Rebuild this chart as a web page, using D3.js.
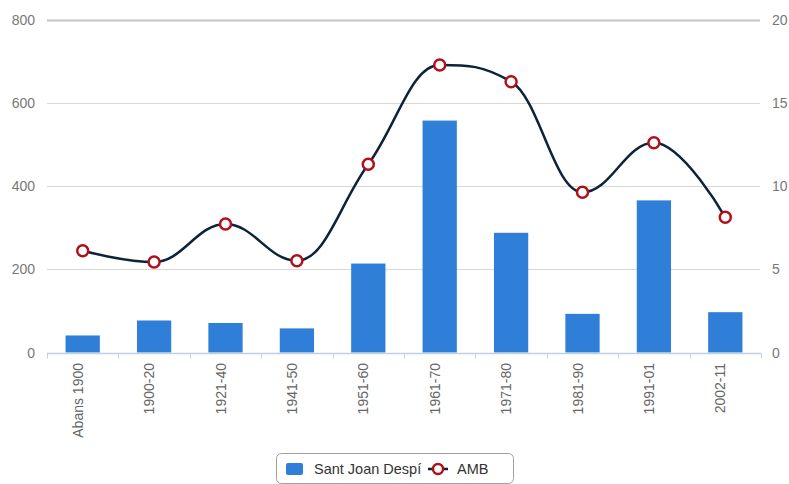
<!DOCTYPE html>
<html>
<head>
<meta charset="utf-8">
<script src="https://cdn.jsdelivr.net/npm/d3@7"></script>
<style>
  html, body { margin: 0; padding: 0; background: #fff; }
  svg { display: block; font-family: "Liberation Sans", Arial, sans-serif; }
</style>
</head>
<body>
<div id="chart"></div>
<script>
// Periods, new dwellings in Sant Joan Despí (left axis) and AMB share (right axis)
const periods = ["Abans 1900", "1900-20", "1921-40", "1941-50", "1951-60",
                 "1961-70", "1971-80", "1981-90", "1991-01", "2002-11"];
const santJoan = [41, 77, 71, 58, 214, 558, 288, 93, 366, 97];
const amb = [6.12, 5.44, 7.73, 5.52, 11.32, 17.29, 16.29, 9.64, 12.62, 8.13];
const leftTicks = [0, 200, 400, 600, 800];
const rightTicks = [0, 5, 10, 15, 20];

(function() {
  'use strict';

  const width = 789, height = 484;
  const plot = { left: 47, right: 761, top: 20, bottom: 352.5 };

  const svg = d3.select("#chart").append("svg")
    .attr("width", width)
    .attr("height", height);

  // Scales
  const x = d3.scaleBand()
    .domain(periods)
    .range([plot.left, plot.right]);

  const yLeft = d3.scaleLinear()
    .domain([0, 800])
    .range([plot.bottom, plot.top]);

  const yRight = d3.scaleLinear()
    .domain([0, 20])
    .range([plot.bottom, plot.top]);

  // Gridlines
  svg.append("g")
    .selectAll("line")
    .data(leftTicks.filter(d => d > 0))
    .join("line")
    .attr("x1", plot.left)
    .attr("x2", plot.right - 1)
    .attr("y1", d => Math.round(yLeft(d)) + 0.5)
    .attr("y2", d => Math.round(yLeft(d)) + 0.5)
    .attr("stroke", d => d === 800 ? "#c4c4c4" : "#d8d8d8")
    .attr("stroke-width", d => d === 800 ? 2 : 1);

  // Left axis labels
  svg.append("g")
    .selectAll("text")
    .data(leftTicks)
    .join("text")
    .attr("x", 35)
    .attr("y", d => yLeft(d) + 5)
    .attr("text-anchor", "end")
    .attr("fill", "#777")
    .style("font-size", "14px")
    .text(d => d);

  // Right axis labels
  svg.append("g")
    .selectAll("text")
    .data(rightTicks)
    .join("text")
    .attr("x", 772)
    .attr("y", d => yRight(d) + 5)
    .attr("text-anchor", "start")
    .attr("fill", "#777")
    .style("font-size", "14px")
    .text(d => d);

  // Bars
  const barW = x.bandwidth() * 0.48;
  svg.append("g")
    .selectAll("rect")
    .data(santJoan)
    .join("rect")
    .attr("x", (d, i) => x(periods[i]) + (x.bandwidth() - barW) / 2)
    .attr("y", d => yLeft(d))
    .attr("width", barW)
    .attr("height", d => yLeft(0) - yLeft(d))
    .attr("fill", "#2f7ed8");

  // X axis line and ticks
  const xAxisG = svg.append("g")
    .attr("transform", `translate(0,${Math.round(plot.bottom) + 0.5})`);
  xAxisG.append("line")
    .attr("x1", plot.left)
    .attr("x2", plot.right)
    .attr("stroke", "#c0d0e0")
    .attr("stroke-width", 1.5);
  xAxisG.selectAll(".tick")
    .data(periods.concat(["end"]))
    .join("line")
    .attr("class", "tick")
    .attr("x1", (d, i) => Math.round(plot.left + i * x.bandwidth()) + 0.5)
    .attr("x2", (d, i) => Math.round(plot.left + i * x.bandwidth()) + 0.5)
    .attr("y1", 0)
    .attr("y2", 5)
    .attr("stroke", "#c0d0e0")
    .attr("stroke-width", 1);

  // Rotated category labels
  svg.append("g")
    .selectAll("text")
    .data(periods)
    .join("text")
    .attr("transform", d => `translate(${x(d) + x.bandwidth() / 2},363) rotate(-90)`)
    .attr("text-anchor", "end")
    .attr("fill", "#666")
    .style("font-size", "14px")
    .text(d => d);

  // AMB line: spline with clamped control points (no false extremes)
  const pts = amb.map((d, i) => [x(periods[i]) + x.bandwidth() / 2, yRight(d)]);

  function splinePath(p) {
    const s = 1.5, den = s + 1;
    const conts = p.map((pt, i) => {
      if (i === 0 || i === p.length - 1) return null;
      const [px, py] = pt, [lx, ly] = p[i - 1], [nx, ny] = p[i + 1];
      const lcx = (s * px + lx) / den, rcx = (s * px + nx) / den;
      let lcy = (s * py + ly) / den, rcy = (s * py + ny) / den;
      const corr = ((rcy - lcy) * (rcx - px)) / (rcx - lcx) + py - rcy;
      lcy += corr; rcy += corr;
      if (lcy > ly && lcy > py) { lcy = Math.max(ly, py); rcy = 2 * py - lcy; }
      else if (lcy < ly && lcy < py) { lcy = Math.min(ly, py); rcy = 2 * py - lcy; }
      if (rcy > ny && rcy > py) { rcy = Math.max(ny, py); lcy = 2 * py - rcy; }
      else if (rcy < ny && rcy < py) { rcy = Math.min(ny, py); lcy = 2 * py - rcy; }
      return { lcx, lcy, rcx, rcy };
    });
    const path = d3.path();
    path.moveTo(p[0][0], p[0][1]);
    for (let i = 1; i < p.length; i++) {
      const prev = conts[i - 1], cur = conts[i];
      path.bezierCurveTo(
        prev ? prev.rcx : p[i - 1][0], prev ? prev.rcy : p[i - 1][1],
        cur ? cur.lcx : p[i][0], cur ? cur.lcy : p[i][1],
        p[i][0], p[i][1]);
    }
    return path.toString();
  }

  svg.append("path")
    .attr("d", splinePath(pts))
    .attr("fill", "none")
    .attr("stroke", "#0d233a")
    .attr("stroke-width", 2.5);

  svg.append("g")
    .selectAll("circle")
    .data(amb)
    .join("circle")
    .attr("cx", (d, i) => x(periods[i]) + x.bandwidth() / 2)
    .attr("cy", d => yRight(d))
    .attr("r", 5.5)
    .attr("fill", "#fff")
    .attr("stroke", "#b0101a")
    .attr("stroke-width", 2.5);

  // Legend
  const legend = svg.append("g");
  legend.append("rect")
    .attr("x", 276.5)
    .attr("y", 453.5)
    .attr("width", 237)
    .attr("height", 30)
    .attr("rx", 5)
    .attr("fill", "#fff")
    .attr("stroke", "#a0a0a0")
    .attr("stroke-width", 1);
  legend.append("rect")
    .attr("x", 286)
    .attr("y", 463)
    .attr("width", 17)
    .attr("height", 12)
    .attr("rx", 2)
    .attr("fill", "#2f7ed8");
  legend.append("text")
    .attr("x", 314)
    .attr("y", 474)
    .attr("fill", "#333")
    .style("font-size", "14.5px")
    .text("Sant Joan Despí");
  legend.append("line")
    .attr("x1", 428)
    .attr("x2", 448)
    .attr("y1", 469)
    .attr("y2", 469)
    .attr("stroke", "#0d233a")
    .attr("stroke-width", 2.5);
  legend.append("circle")
    .attr("cx", 438)
    .attr("cy", 469)
    .attr("r", 5)
    .attr("fill", "#fff")
    .attr("stroke", "#b0101a")
    .attr("stroke-width", 2.5);
  legend.append("text")
    .attr("x", 457)
    .attr("y", 474)
    .attr("fill", "#333")
    .style("font-size", "14.5px")
    .text("AMB");
})();
</script>
</body>
</html>
